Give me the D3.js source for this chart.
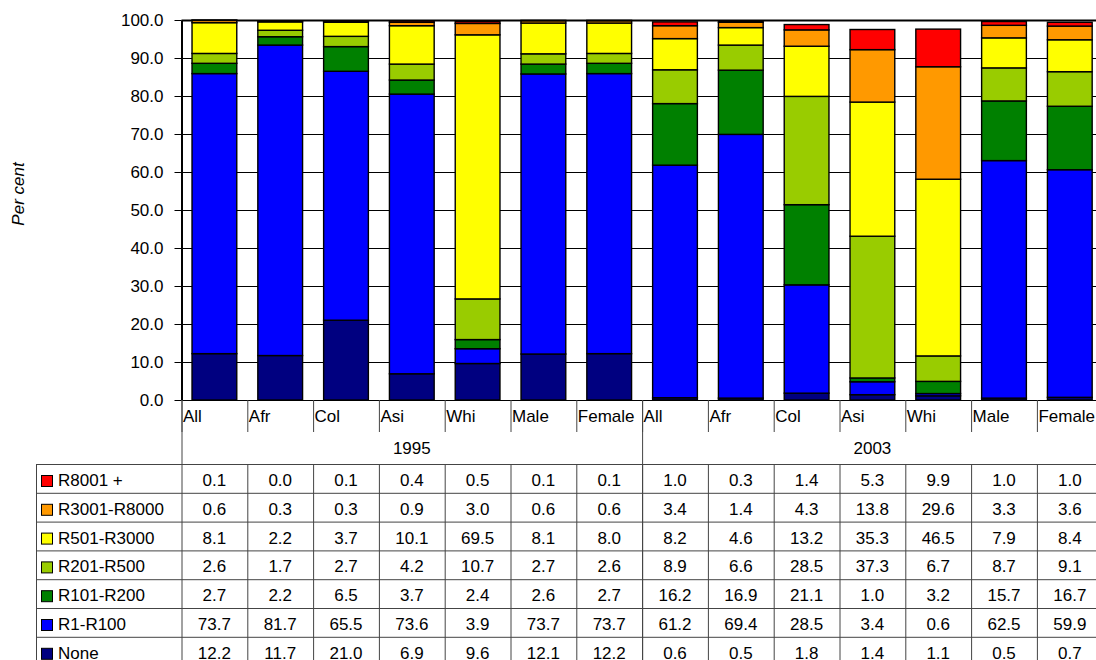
<!DOCTYPE html>
<html><head><meta charset="utf-8">
<script src="https://cdn.jsdelivr.net/npm/d3@7"></script>
<style>
body{margin:0;background:#fff;}
svg{display:block;font-family:"Liberation Sans",Arial,sans-serif;}
</style></head>
<body><svg id="c" width="1096" height="660"></svg>
<script>
const years = ["1995","2003"];
const groups = ["All","Afr","Col","Asi","Whi","Male","Female"];
const seriesNames = ["None","R1-R100","R101-R200","R201-R500","R501-R3000","R3001-R8000","R8001 +"];
const colors = ["#000080","#0000FF","#008000","#99CC00","#FFFF00","#FF9900","#FF0000"];
const none      = [12.2,11.7,21.0,6.9,9.6,12.1,12.2, 0.6,0.5,1.8,1.4,1.1,0.5,0.7];
const r1_100    = [73.7,81.7,65.5,73.6,3.9,73.7,73.7, 61.2,69.4,28.5,3.4,0.6,62.5,59.9];
const r101_200  = [2.7,2.2,6.5,3.7,2.4,2.6,2.7, 16.2,16.9,21.1,1.0,3.2,15.7,16.7];
const r201_500  = [2.6,1.7,2.7,4.2,10.7,2.7,2.6, 8.9,6.6,28.5,37.3,6.7,8.7,9.1];
const r501_3000 = [8.1,2.2,3.7,10.1,69.5,8.1,8.0, 8.2,4.6,13.2,35.3,46.5,7.9,8.4];
const r3001_8000= [0.6,0.3,0.3,0.9,3.0,0.6,0.6, 3.4,1.4,4.3,13.8,29.6,3.3,3.6];
const r8001     = [0.1,0.0,0.1,0.4,0.5,0.1,0.1, 1.0,0.3,1.4,5.3,9.9,1.0,1.0];
const yTicks = [0,10,20,30,40,50,60,70,80,90,100];

const seriesVals = [none,r1_100,r101_200,r201_500,r501_3000,r3001_8000,r8001];
const cats = [];
years.forEach(y=>groups.forEach(g=>cats.push({id:y+"-"+g,year:y,label:g})));
const rows = cats.map((c,i)=>{const o={id:c.id};seriesNames.forEach((s,k)=>o[s]=seriesVals[k][i]);return o;});

(function(){
const FS = 17;
const svg = d3.select("#c");
const left=181.5, colW=65.8, plotTop=20, bottom=400;
const x = d3.scaleBand().domain(cats.map(c=>c.id)).range([left,left+colW*cats.length]).paddingInner(0.32).paddingOuter(0.16);
const y = d3.scaleLinear().domain([0,100]).range([bottom,plotTop]);

svg.append("g").selectAll("line").data(yTicks).join("line")
  .attr("x1",left).attr("x2",1096).attr("y1",d=>y(d)+0.5).attr("y2",d=>y(d)+0.5)
  .attr("stroke","#000").attr("stroke-width",d=>d===100?2:1);

const stack = d3.stack().keys(seriesNames)(rows);
svg.append("g").selectAll("g").data(stack).join("g")
  .attr("fill",(d,i)=>colors[i])
  .selectAll("rect").data(d=>d).join("rect")
  .attr("x",d=>x(d.data.id)).attr("width",x.bandwidth())
  .attr("y",d=>y(d[1])).attr("height",d=>Math.max(0,y(d[0])-y(d[1])))
  .attr("stroke","#000").attr("stroke-width",1.4);

const ya = svg.append("g").attr("transform",`translate(${left},0)`)
  .call(d3.axisLeft(y).tickValues(yTicks).tickFormat(d3.format(".1f")).tickSize(7).tickSizeOuter(0));
ya.select(".domain").attr("stroke","#000").attr("stroke-width",2);
ya.selectAll(".tick line").attr("stroke","#000");
ya.selectAll("text").attr("font-size",FS).attr("font-family","Liberation Sans,Arial,sans-serif").attr("fill","#000").attr("dx",-8);

svg.append("text").attr("transform","translate(24,194) rotate(-90)")
  .attr("text-anchor","middle").attr("font-size",FS).attr("font-style","italic").text("Per cent");

const lc="#444";
const tableTop=464, rowH=28.8, hdrBottom=432, legendLeft=36;
const colX = i=>left+colW*i;
const T = svg.append("g");
T.selectAll("text.cat").data(cats).join("text").attr("class","cat")
  .attr("x",(d,i)=>colX(i)+1.5).attr("y",422).attr("font-size",FS).text(d=>d.label);
T.selectAll("line.cat").data(cats).join("line").attr("class","cat")
  .attr("x1",(d,i)=>colX(i)+0.5).attr("x2",(d,i)=>colX(i)+0.5).attr("y1",bottom).attr("y2",hdrBottom)
  .attr("stroke",lc);
years.forEach((yr,j)=>{
  const x0=colX(j*groups.length), x1=colX((j+1)*groups.length);
  T.append("text").attr("x",(x0+x1)/2).attr("y",453.5).attr("text-anchor","middle").attr("font-size",FS).text(yr);
  T.append("line").attr("x1",x0+0.5).attr("x2",x0+0.5).attr("y1",bottom).attr("y2",660).attr("stroke",lc);
});
const nRows = seriesNames.length;
for(let r=0;r<=nRows;r++){
  T.append("line").attr("x1",legendLeft).attr("x2",1096).attr("y1",tableTop+r*rowH+0.5).attr("y2",tableTop+r*rowH+0.5).attr("stroke",lc);
}
T.append("line").attr("x1",legendLeft+0.5).attr("x2",legendLeft+0.5).attr("y1",tableTop).attr("y2",660).attr("stroke",lc);
for(let i=1;i<cats.length;i++){
  T.append("line").attr("x1",colX(i)+0.5).attr("x2",colX(i)+0.5).attr("y1",tableTop).attr("y2",660).attr("stroke",lc);
}
const order = seriesNames.map((s,k)=>k).reverse();
order.forEach((k,r)=>{
  const rt = tableTop+r*rowH;
  T.append("rect").attr("x",legendLeft+5.5).attr("y",rt+11.5).attr("width",11).attr("height",11)
    .attr("fill",colors[k]).attr("stroke","#000");
  T.append("text").attr("x",legendLeft+22).attr("y",rt+22).attr("font-size",FS).text(seriesNames[k]);
  T.selectAll(null).data(seriesVals[k]).join("text")
    .attr("x",(d,i)=>colX(i)+colW/2).attr("y",rt+22).attr("text-anchor","middle").attr("font-size",FS)
    .text(d=>d.toFixed(1));
});
})();
</script></body></html>
